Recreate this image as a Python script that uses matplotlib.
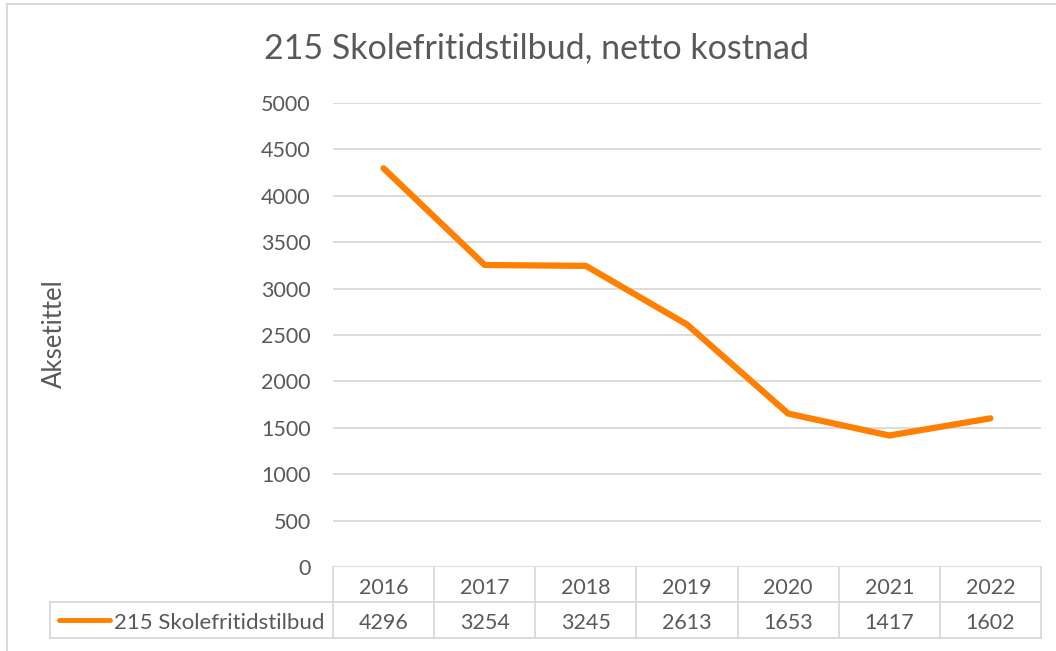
import matplotlib.pyplot as plt
from matplotlib.lines import Line2D
from matplotlib.transforms import blended_transform_factory

# data
years = ["2016", "2017", "2018", "2019", "2020", "2021", "2022"]
values = [4296, 3254, 3245, 2613, 1653, 1417, 1602]
series_name = "215 Skolefritidstilbud"
title = "215 Skolefritidstilbud, netto kostnad"
y_ticks = [0, 500, 1000, 1500, 2000, 2500, 3000, 3500, 4000, 4500, 5000]

plt.rcParams["font.family"] = ["Lato", "DejaVu Sans"]
txt = "#595959"
grid = "#d9d9d9"
orange = "#ff8000"

W, H = 1056, 651
fig = plt.figure(figsize=(W / 100, H / 100), dpi=100)

# plot area in pixels
px_l, px_r, px_t, px_b = 333, 1041, 103, 567
ax = fig.add_axes([px_l / W, 1 - px_b / H, (px_r - px_l) / W, (px_b - px_t) / H])

x = list(range(len(years)))
ax.plot(x, values, color=orange, lw=4.5, solid_capstyle="round", solid_joinstyle="round", zorder=3)
ax.set_xlim(-0.5, len(years) - 0.5)
ax.set_ylim(0, 5000)
ax.set_yticks(y_ticks)
ax.set_yticklabels([str(v) for v in y_ticks], fontsize=15.5, color=txt)
ax.tick_params(axis="y", length=0, pad=16)
ax.set_xticks([])
ax.grid(axis="y", color=grid, lw=1.3)
for s in ax.spines.values():
    s.set_visible(False)
ax.set_axisbelow(True)

ax.set_ylabel("Aksetittel", fontsize=18.5, color=txt, labelpad=0)
ax.yaxis.set_label_coords((67 - px_l) / (px_r - px_l), 1 - (334 - px_t) / (px_b - px_t))

fig.text(537 / W, 1 - 48 / H, title, fontsize=24.5, color=txt, ha="center", va="center")

# data table below the axis (x in data, y in axes units)
tr = blended_transform_factory(ax.transData, ax.transAxes)
ph = px_b - px_t
col_w = (px_r - px_l) / len(years)
row1 = -(602 - px_b) / ph
row2 = -(638 - px_b) / ph
x_leg = -0.5 - (px_l - 50) / col_w
shift = -3 / ph  # text sits a little low in its cell

tkw = dict(transform=tr, clip_on=False, color=grid, lw=1.3)
ax.add_line(Line2D([x_leg, len(years) - 0.5], [row1, row1], **tkw))
ax.add_line(Line2D([x_leg, len(years) - 0.5], [row2, row2], **tkw))
ax.add_line(Line2D([x_leg, x_leg], [row1, row2], **tkw))
for i in range(len(years) + 1):
    ax.add_line(Line2D([i - 0.5, i - 0.5], [0, row2], **tkw))

for i, (yr, v) in enumerate(zip(years, values)):
    ax.text(i, row1 / 2 + shift, yr, transform=tr, ha="center", va="center", fontsize=15.5, color=txt)
    ax.text(i, (row1 + row2) / 2 + shift, str(v), transform=tr, ha="center", va="center",
            fontsize=15.5, color=txt)

# legend key in the table
x_key0 = -0.5 - (px_l - 59) / col_w
x_key1 = -0.5 - (px_l - 110) / col_w
ax.add_line(Line2D([x_key0, x_key1], [(row1 + row2) / 2] * 2, transform=tr, clip_on=False,
                   color=orange, lw=3.5, solid_capstyle="round"))
ax.text(-0.5 - (px_l - 325) / col_w, (row1 + row2) / 2 + shift, series_name, transform=tr,
        ha="right", va="center", fontsize=16, color=txt)

# chart border (left and top visible)
fig.add_artist(Line2D([7 / W, 7 / W], [0, 1 - 4 / H], color=grid, lw=1.5))
fig.add_artist(Line2D([7 / W, 1], [1 - 4 / H, 1 - 4 / H], color=grid, lw=1.5))

fig.savefig("out.png", dpi=100)
